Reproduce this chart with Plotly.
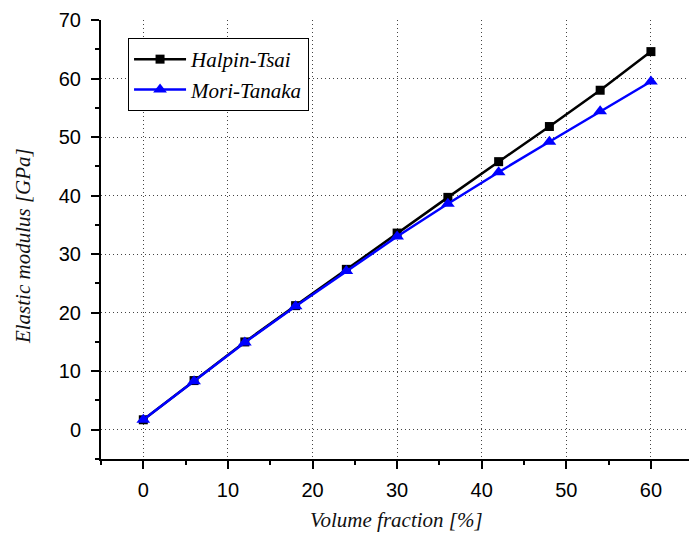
import plotly.graph_objects as go

volume_fraction = [0, 6, 12, 18, 24, 30, 36, 42, 48, 54, 60]
halpin_tsai = [1.7, 8.4, 15.0, 21.2, 27.4, 33.6, 39.7, 45.8, 51.8, 58.0, 64.6]
mori_tanaka = [1.7, 8.3, 14.9, 21.1, 27.1, 33.0, 38.6, 44.0, 49.2, 54.4, 59.5]

x_title = "Volume fraction [%]"
y_title = "Elastic modulus [GPa]"

serif = "Liberation Serif, Times New Roman, serif"
sans = "Liberation Sans, Arial, sans-serif"

fig = go.Figure()
fig.add_trace(go.Scatter(
    x=volume_fraction, y=halpin_tsai, mode="lines+markers", name="Halpin-Tsai",
    line=dict(color="black", width=2.5),
    marker=dict(symbol="square", size=9, color="black")))
fig.add_trace(go.Scatter(
    x=volume_fraction, y=mori_tanaka, mode="lines+markers", name="Mori-Tanaka",
    line=dict(color="#0000ff", width=2.5),
    marker=dict(symbol="triangle-up", size=12, color="#0000ff")))

axis_common = dict(
    showline=True, linecolor="black", linewidth=2,
    ticks="outside", ticklen=8, tickwidth=2, tickcolor="black",
    showgrid=True, gridcolor="#444444", gridwidth=1, griddash="1px,3px",
    zeroline=False, automargin=False,
    tickfont=dict(family=sans, size=20, color="black"),
    minor=dict(ticks="outside", ticklen=4, tickwidth=2, tickcolor="black", showgrid=False, dtick=5),
)

fig.update_layout(
    width=689, height=533,
    margin=dict(l=101, r=0, t=20, b=74),
    plot_bgcolor="white", paper_bgcolor="white",
    xaxis=dict(range=[-5, 64.5], dtick=10, tick0=0, ticklabelstandoff=4, **axis_common),
    yaxis=dict(range=[-5, 70], dtick=10, tick0=0, ticklabelstandoff=6, **axis_common),
    legend=dict(x=0.046, y=0.959, xanchor="left", yanchor="top",
                bgcolor="white", bordercolor="black", borderwidth=1,
                font=dict(family=serif, size=21, color="black", style="italic"),
                itemwidth=52, tracegroupgap=0),
    showlegend=True,
    annotations=[
        dict(text=x_title, xref="paper", yref="paper", x=0.5026, y=-0.139,
             xanchor="center", yanchor="middle", showarrow=False,
             font=dict(family=serif, size=21, color="#111", style="italic")),
        dict(text=y_title, xref="paper", yref="paper", x=-0.1327, y=0.485,
             xanchor="center", yanchor="middle", showarrow=False, textangle=-90,
             font=dict(family=serif, size=21, color="#111", style="italic")),
    ],
)

fig.write_html("out.html", config={"displayModeBar": False},
               post_script="document.body.style.margin='0px';document.body.style.padding='0px';")
